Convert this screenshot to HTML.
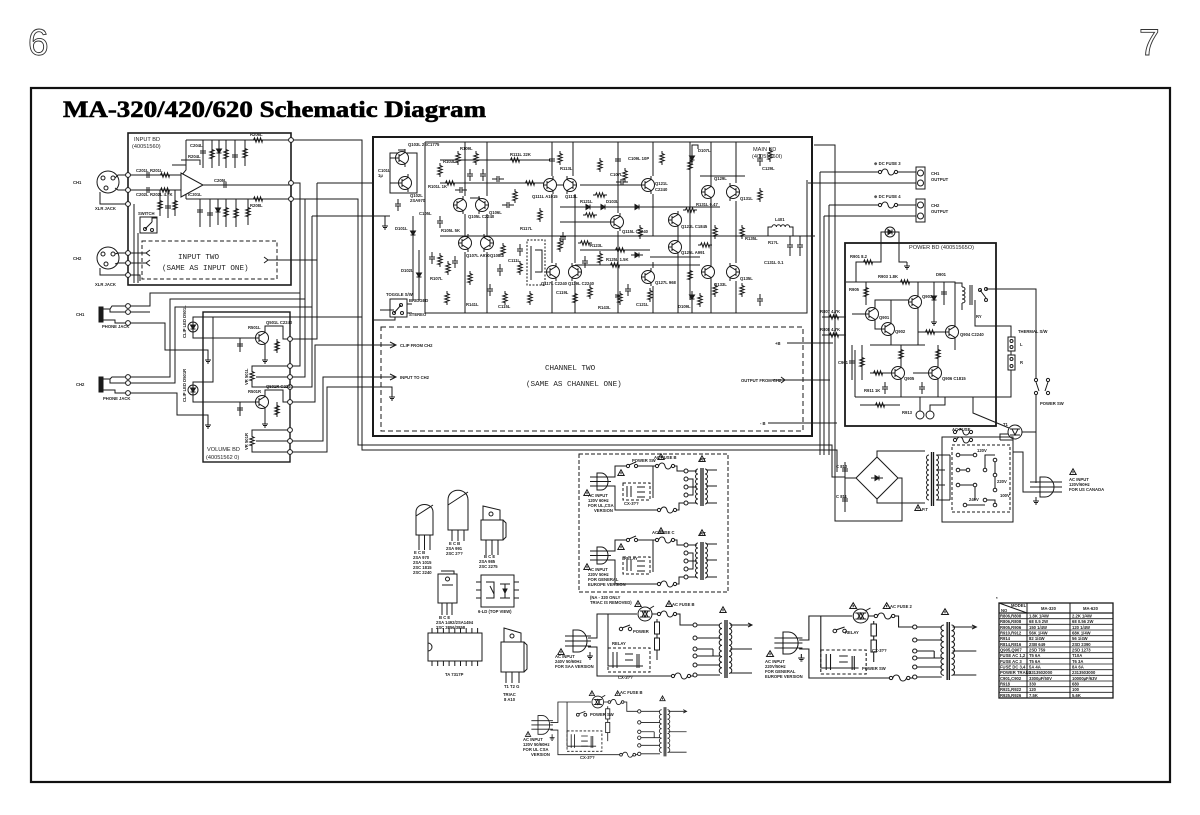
<!DOCTYPE html>
<html><head><meta charset="utf-8">
<style>
html,body{margin:0;padding:0;background:#fff;width:1200px;height:815px;overflow:hidden}
svg{display:block}
.t{font-family:"Liberation Sans",sans-serif;font-size:4.2px;font-weight:bold;fill:#222;stroke:none}
.s{font-family:"Liberation Sans",sans-serif;font-size:5.6px;fill:#222;stroke:none}
.b{font-family:"Liberation Mono","Liberation Sans",sans-serif;font-size:7.6px;fill:#222;stroke:none}
</style></head><body>
<svg width="1200" height="815" viewBox="0 0 1200 815" xmlns="http://www.w3.org/2000/svg">
<defs>
<g id="tr"><circle r="6.5" fill="#fff"/><path d="M-6.5,0H-3M-3,-4V4M-3,-1.8L3,-5.5V-9M-3,1.8L3,5.5V9"/></g>
<g id="tl"><circle r="6.5" fill="#fff"/><path d="M6.5,0H3M3,-4V4M3,-1.8L-3,-5.5V-9M3,1.8L-3,5.5V9"/></g>
<path id="rv" d="M0,-7V-4.5L2.2,-3.5L-2.2,-2L2.2,-0.5L-2.2,1L2.2,2.5L-2.2,4L0,4.5V7"/>
<path id="rh" d="M-7,0H-4.5L-3.5,-2.2L-2,2.2L-0.5,-2.2L1,2.2L2.5,-2.2L4,2.2L4.5,0H7"/>
<path id="cv" d="M0,-6V-1M-3,-1H3M-3,1H3M0,1V6"/>
<path id="ch" d="M-6,0H-1M-1,-3V3M1,-3V3M1,0H6"/>
<g id="dv"><path d="M-2.5,-2H2.5L0,2Z" fill="#1a1a1a"/><path d="M-2.5,2H2.5M0,-6V6"/></g>
<g id="dh"><path d="M-2,-2.5V2.5L2,0Z" fill="#1a1a1a"/><path d="M2,-2.5V2.5M-6,0H6"/></g>
<circle id="tm" r="2.4" fill="#fff"/>
<path id="gd" d="M0,0V4M-3,4H3M-2,5.5H2M-1,7H1"/>
<path id="wt" d="M0,-3.2L3.2,2.5H-3.2Z M0,-1V1.2"/>
<g id="fu"><path d="M-6.4,0C-5,-4 -1,-4 0,0C1,4 5,4 6.4,0"/><circle cx="-8" r="1.6" fill="#fff"/><circle cx="8" r="1.6" fill="#fff"/></g>
<g id="acT">
 <path d="M0,16H5A9,11 0 0 1 5,38H0Z" fill="#fff"/>
 <path d="M-8,22H18M-8,27H18M-8,32H18"/>
 <path d="M15,24H24V0H64M79,0H86M102,0H107V11H120M15,33H24V62H100M116,62H120V61"/>
 <path d="M35,0V52H70M84,5V46"/>
 <rect x="35" y="34" width="42" height="24" stroke-dasharray="3 2"/>
 <path d="M40,38V54M44,38V54M52,40H60M52,46H60M52,52H60M64,40V54M66,40V54"/>
 <circle cx="72" r="7" fill="#fff"/><path d="M67,-3H77M67,3H77M69,-3L72,3L75,-3M69,3L72,-3L75,3M76,-5L81,-8"/>
 <circle cx="48" cy="15" r="1.7" fill="#fff"/><circle cx="57" cy="15" r="1.7" fill="#fff"/><path d="M49,14L57,11"/>
 <rect x="81.5" y="8" width="5" height="12" fill="#fff"/><rect x="81.5" y="24" width="5" height="12" fill="#fff"/>
 <use href="#fu" x="94" y="0"/><use href="#fu" x="108" y="62"/>
 <path d="M124,11H147M124,24H147M124,35H140M124,42H147M124,51H147M124,61H147M140,35V42"/>
 <circle cx="122" cy="11" r="2" fill="#fff"/><circle cx="122" cy="24" r="2" fill="#fff"/><circle cx="122" cy="35" r="2" fill="#fff"/><circle cx="122" cy="42" r="2" fill="#fff"/><circle cx="122" cy="51" r="2" fill="#fff"/><circle cx="122" cy="61" r="2" fill="#fff"/>
 <path d="M149,9a2.8,2.8 0 0 0 0,5.6a2.8,2.8 0 0 0 0,5.6a2.8,2.8 0 0 0 0,5.6a2.8,2.8 0 0 0 0,5.6a2.8,2.8 0 0 0 0,5.6a2.8,2.8 0 0 0 0,5.6a2.8,2.8 0 0 0 0,5.6a2.8,2.8 0 0 0 0,5.6a2.8,2.8 0 0 0 0,5.6"/>
 <path d="M152,6V64M154,6V64" stroke-width="1.3"/>
 <path d="M156,9a2.8,2.8 0 0 1 0,5.6a2.8,2.8 0 0 1 0,5.6a2.8,2.8 0 0 1 0,5.6a2.8,2.8 0 0 1 0,5.6a2.8,2.8 0 0 1 0,5.6a2.8,2.8 0 0 1 0,5.6a2.8,2.8 0 0 1 0,5.6a2.8,2.8 0 0 1 0,5.6a2.8,2.8 0 0 1 0,5.6"/>
 <path d="M157,11H179M157,35H179M157,59H179M175,9L179,11L175,13"/>
 <use href="#wt" x="65" y="-10"/><use href="#wt" x="96" y="-10"/><use href="#wt" x="150" y="-4"/><use href="#wt" x="-12" y="38"/>
 <use href="#gd" x="17" y="38"/>
</g>
<g id="acR">
 <path d="M0,0H4A7,8.5 0 0 1 4,17H0Z" fill="#fff"/>
 <path d="M-7,4H14M-7,8.5H14M-7,13H14"/>
 <path d="M11,4H18V-7H30M41,-7H60M76,-7H80V-2H87M11,13H18V37H62M78,37H82V30H87M56,-7V25"/>
 <circle cx="31" cy="-7" r="1.6" fill="#fff"/><circle cx="39" cy="-7" r="1.6" fill="#fff"/><path d="M32,-8L39,-11"/>
 <use href="#fu" x="68" y="-7"/><use href="#fu" x="70" y="37"/>
 <rect x="26" y="10" width="27" height="17" stroke-dasharray="3 2"/>
 <path d="M30,13V24M34,13V24M40,14H48M40,19H48M40,24H48"/>
 <path d="M91,-2H100M91,6H96V22H91M91,14H100M91,30H100"/>
 <circle cx="89" cy="-2" r="2" fill="#fff"/><circle cx="89" cy="6" r="2" fill="#fff"/><circle cx="89" cy="14" r="2" fill="#fff"/><circle cx="89" cy="22" r="2" fill="#fff"/><circle cx="89" cy="30" r="2" fill="#fff"/>
 <path d="M101,-4a2.5,2.5 0 0 0 0,5a2.5,2.5 0 0 0 0,5a2.5,2.5 0 0 0 0,5a2.5,2.5 0 0 0 0,5a2.5,2.5 0 0 0 0,5a2.5,2.5 0 0 0 0,5a2.5,2.5 0 0 0 0,5"/>
 <path d="M104,-5V33M106,-5V33" stroke-width="1.3"/>
 <path d="M108,-4a2.5,2.5 0 0 1 0,5a2.5,2.5 0 0 1 0,5a2.5,2.5 0 0 1 0,5a2.5,2.5 0 0 1 0,5a2.5,2.5 0 0 1 0,5a2.5,2.5 0 0 1 0,5a2.5,2.5 0 0 1 0,5"/>
 <path d="M109,-3H120M109,13H120M109,30H120"/>
 <use href="#wt" x="64" y="-16"/><use href="#wt" x="105" y="-14"/><use href="#wt" x="-10" y="20"/><use href="#wt" x="24" y="0"/>
</g>
</defs>

<text x="28" y="55" font-family="Liberation Sans" font-size="37" fill="none" stroke="#333" stroke-width="0.9">6</text>
<text x="1139" y="55" font-family="Liberation Sans" font-size="37" fill="none" stroke="#333" stroke-width="0.9">7</text>
<rect x="31" y="88" width="1139" height="694" fill="none" stroke="#111" stroke-width="2.2"/>
<text x="63" y="117" font-family="Liberation Serif" font-weight="bold" font-size="23" textLength="423" lengthAdjust="spacingAndGlyphs" fill="#000" stroke="#000" stroke-width="0.6">MA-320/420/620 Schematic Diagram</text>

<g fill="none" stroke="#1a1a1a" stroke-width="1">

<!-- ================= INPUT BD ================= -->
<rect x="128" y="133" width="163" height="152" stroke-width="1.6"/>
<circle cx="108" cy="182" r="11"/><circle cx="103" cy="178" r="2"/><circle cx="113" cy="178" r="2"/><circle cx="106" cy="188" r="2"/>
<path d="M115,178L118,175H128M115,188L118,190H128M100,192V204H128"/>
<circle cx="108" cy="258" r="11"/><circle cx="103" cy="254" r="2"/><circle cx="113" cy="254" r="2"/><circle cx="106" cy="264" r="2"/>
<path d="M115,254L118,253H128M115,264L118,263H128M100,268V275H128"/>
<path d="M128,175H181M128,190H181M186,140H291M186,140V170L181,176M186,199H291M186,199V192L181,192M203,185H291M181,160H200V165M172,165H186"/>
<path d="M181,173V197L203,185Z" fill="#fff"/>
<use href="#ch" x="148" y="175"/><use href="#rh" x="165" y="175"/><use href="#ch" x="148" y="190"/><use href="#rh" x="165" y="190"/>
<use href="#ch" x="225" y="185"/><use href="#rh" x="258" y="140"/><use href="#rh" x="258" y="199"/>
<path d="M203,140V168M212,140V168M219,140V166M226,140V168M235,140V168M245,140V166M200,199V227M210,199V227M218,199V225M226,199V227M236,199V227M248,199V225M160,190V216M168,190V218M175,190V216"/>
<use href="#cv" x="203" y="152"/><use href="#rv" x="212" y="154"/><use href="#dv" x="219" y="151"/><use href="#rv" x="226" y="154"/><use href="#cv" x="235" y="156"/><use href="#rv" x="245" y="153"/>
<use href="#cv" x="200" y="211"/><use href="#cv" x="210" y="214"/><use href="#dv" x="218" y="210"/><use href="#rv" x="226" y="212"/><use href="#rv" x="236" y="213"/><use href="#rv" x="248" y="212"/>
<use href="#rv" x="160" y="205"/><use href="#cv" x="168" y="207"/><use href="#rv" x="175" y="205"/>
<rect x="140" y="217" width="17" height="16"/><path d="M145,229L152,222M152,222V218H157"/><circle cx="145" cy="229" r="1.5"/><circle cx="152" cy="230" r="1.5"/>
<path d="M134,204V283M138,233V283"/>
<rect x="142" y="241" width="135" height="38" stroke-dasharray="4 2.5"/>
<path d="M128,253H146M128,263H146M150,250L146,253L150,256M150,260L146,263L150,266M128,275H140V281M264,257L268,260L264,263M268,260H317"/>
<use href="#tm" x="128" y="175"/><use href="#tm" x="128" y="190"/><use href="#tm" x="128" y="204"/>
<use href="#tm" x="128" y="253"/><use href="#tm" x="128" y="263"/><use href="#tm" x="128" y="275"/>
<use href="#tm" x="291" y="140"/><use href="#tm" x="291" y="183"/><use href="#tm" x="291" y="199"/>

<!-- connections input -> main -->
<path d="M293,140H362V450H837V472"/>
<path d="M293,199H358V445H832V477H845"/>
<path d="M293,183H300V366H290M305,199V377H290M317,183V339H290M317,183H373M312,216V387H290M312,216H385V222"/>
<use href="#gd" x="385" y="222"/>
<!-- phone jacks -->
<rect x="99" y="307" width="4" height="15" fill="#1a1a1a"/>
<rect x="99" y="377" width="4" height="15" fill="#1a1a1a"/>
<path d="M103,309H110L112,306H128M110,309V312H128M103,320H115V323H128M128,306H150V293H300M128,312H150"/>
<path d="M103,379H110L112,377H128M110,379V383H128M103,390H115V393H128M128,377H170V299H305M128,383H175V307H312"/>
<path d="M128,323H165V350H208V356M128,393H177V415H208V421"/>
<use href="#gd" x="208" y="356"/><use href="#gd" x="208" y="421"/>
<use href="#tm" x="128" y="306"/><use href="#tm" x="128" y="312"/><use href="#tm" x="128" y="323"/>
<use href="#tm" x="128" y="377"/><use href="#tm" x="128" y="383"/><use href="#tm" x="128" y="393"/>

<!-- VOLUME BD -->
<rect x="203" y="312" width="87" height="150" stroke-width="1.4"/>
<circle cx="193" cy="327" r="5" fill="#fff"/><use href="#dv" x="193" y="327"/>
<circle cx="193" cy="390" r="5" fill="#fff"/><use href="#dv" x="193" y="390"/>
<path d="M193,322V317H362M193,332V338H255.5M213,317V382H193V385M193,395V402H255.5"/>
<use href="#tr" x="262" y="338"/><use href="#tr" x="262" y="402"/>
<path d="M265,329V326H283V339H290M265,347V356M265,393V390H283V402H290M265,411V420"/>
<use href="#gd" x="265" y="356"/><use href="#gd" x="265" y="420"/>
<path d="M240,338V352M240,402V416M277,339V352M277,402V416"/>
<use href="#cv" x="240" y="345"/><use href="#cv" x="240" y="409"/><use href="#rv" x="277" y="346"/><use href="#rv" x="277" y="410"/>
<path d="M290,366H252V369M252,383V387H290M256,377H290M290,430H252V434M252,448V452H290M256,441H290"/>
<use href="#rv" x="252" y="376"/><use href="#rv" x="252" y="441"/>
<path d="M290,402H315V345H396M390,342L396,345L390,348M290,441H323V377H396M390,374L396,377L390,380M290,452H327V387H392V393"/>
<use href="#gd" x="392" y="393"/>
<use href="#tm" x="290" y="339"/><use href="#tm" x="290" y="366"/><use href="#tm" x="290" y="377"/><use href="#tm" x="290" y="387"/><use href="#tm" x="290" y="402"/><use href="#tm" x="290" y="430"/><use href="#tm" x="290" y="441"/><use href="#tm" x="290" y="452"/>

<!-- ================= MAIN BD ================= -->
<path d="M373,137H812V436H373Z" stroke-width="2"/>
<rect x="381" y="327" width="422" height="104" stroke-dasharray="5 3"/>
<path d="M425,142H770M425,313H807V180M440,236H815M440,183H545M560,207H720M560,222H610M580,250H650M575,265H700M650,257H700M440,160H550M580,185H641.5M700,176H745M470,198H480M555,185H565"/>
<path d="M425,142V313M465,142V196M487,142V196M465,214V236M487,214V236M552,142V176M573,142V176M618,142V213M653,142V176M690,142V300M711,142V183M736,142V183M711,201V263M736,201V263M711,281V313M736,281V313M552,194V263M575,194V263M552,281V313M575,281V313M618,231V313M653,194V236M653,262V268M653,286V313M465,252V313M487,252V313M678,211V240M678,256V313"/>
<path d="M390,153V193H417V153ZM373,216H390M398,150H405V149M395.5,158H390M398.5,183H390"/>
<use href="#tr" x="402" y="158"/><use href="#tr" x="405" y="183"/>
<use href="#tr" x="460" y="205"/><use href="#tl" x="482" y="205"/><use href="#tr" x="465" y="243"/><use href="#tl" x="487" y="243"/>
<use href="#tr" x="550" y="185"/><use href="#tl" x="570" y="185"/><use href="#tr" x="617" y="222"/>
<use href="#tr" x="553" y="272"/><use href="#tl" x="575" y="272"/><use href="#tr" x="648" y="185"/>
<use href="#tr" x="675" y="220"/><use href="#tr" x="675" y="247"/><use href="#tr" x="648" y="277"/>
<use href="#tr" x="708" y="192"/><use href="#tl" x="733" y="192"/><use href="#tr" x="708" y="272"/><use href="#tl" x="733" y="272"/>
<use href="#rv" x="440" y="170"/><use href="#rv" x="458" y="158"/><use href="#rv" x="476" y="158"/><use href="#rv" x="448" y="268"/><use href="#rv" x="503" y="250"/><use href="#rv" x="520" y="268"/><use href="#rv" x="560" y="158"/><use href="#rv" x="590" y="292"/><use href="#rv" x="600" y="258"/><use href="#rv" x="640" y="232"/><use href="#rv" x="662" y="158"/><use href="#rv" x="690" y="165"/><use href="#rv" x="690" y="275"/><use href="#rv" x="715" y="232"/><use href="#rv" x="742" y="232"/><use href="#rv" x="715" y="290"/><use href="#rv" x="742" y="290"/><use href="#rv" x="770" y="155"/><use href="#rv" x="447" y="298"/><use href="#rv" x="505" y="298"/><use href="#rv" x="575" y="298"/><use href="#rv" x="650" y="295"/><use href="#rv" x="470" y="278"/><use href="#rv" x="530" y="298"/><use href="#rv" x="620" y="298"/><use href="#rv" x="440" y="260"/><use href="#rv" x="560" y="245"/><use href="#rv" x="600" y="165"/><use href="#rv" x="625" y="175"/><use href="#rv" x="700" y="300"/><use href="#rv" x="760" y="195"/><use href="#rv" x="540" y="215"/><use href="#rv" x="515" y="196"/>
<use href="#cv" x="398" y="205"/><use href="#cv" x="432" y="258"/><use href="#cv" x="455" y="262"/><use href="#cv" x="440" y="222"/><use href="#cv" x="520" y="250"/><use href="#cv" x="585" y="262"/><use href="#cv" x="618" y="160"/><use href="#cv" x="618" y="296"/><use href="#cv" x="552" y="160"/><use href="#cv" x="563" y="238"/><use href="#cv" x="490" y="290"/><use href="#cv" x="760" y="160"/><use href="#cv" x="760" y="300"/><use href="#cv" x="470" y="175"/><use href="#cv" x="483" y="175"/><use href="#cv" x="500" y="270"/><use href="#cv" x="628" y="290"/>
<use href="#dv" x="413" y="233"/><use href="#dv" x="419" y="275"/><use href="#dv" x="692" y="158"/><use href="#dv" x="692" y="297"/>
<use href="#rh" x="450" y="183"/><use href="#rh" x="590" y="215"/><use href="#rh" x="585" y="243"/><use href="#rh" x="620" y="250"/><use href="#rh" x="615" y="265"/><use href="#rh" x="690" y="210"/><use href="#rh" x="705" y="245"/><use href="#rh" x="530" y="183"/><use href="#rh" x="600" y="195"/><use href="#rh" x="515" y="160"/>
<use href="#dh" x="588" y="207"/><use href="#dh" x="603" y="207"/><use href="#dh" x="637" y="207"/><use href="#dh" x="637" y="255"/>
<use href="#ch" x="498" y="179"/><use href="#ch" x="622" y="182"/><use href="#ch" x="461" y="190"/><use href="#ch" x="508" y="205"/>
<path d="M413,227V216M413,239V300M419,269V250M419,281V300M692,152V145H698V149M692,303V313"/>
<rect x="527" y="240" width="18" height="45" stroke-dasharray="2 1.5"/><path d="M531,246V280M535,250H542V272H535"/>
<rect x="390" y="299" width="17" height="18"/><path d="M394,313L401,305M380,310H394M407,304H412M407,313H412M373,320H395V317"/><circle cx="394" cy="313" r="1.5"/><circle cx="401" cy="305" r="1.5"/><circle cx="402" cy="313" r="1.5"/>
<path d="M768,236V227H772M772,227a2.2,2.2 0 0 1 4.4,0a2.2,2.2 0 0 1 4.4,0a2.2,2.2 0 0 1 4.4,0a2.2,2.2 0 0 1 4.4,0H793V236M790,236V240M800,236V240M790,252V256M800,252V256"/>
<use href="#cv" x="790" y="246"/><use href="#cv" x="800" y="246"/>
<path d="M787,343H833M772,380H830M781,377L785,380L781,383M768,423H837"/>

<!-- right side outputs -->
<path d="M814,145H835V521H902V478H898M820,172H878.4M897.6,172H916M808,183H916M820,172V455M829,205H880M896,205H916M829,205V455M824,216H916M824,216V455"/>
<use href="#fu" x="888" y="172"/><use href="#fu" x="888" y="205"/>
<rect x="916" y="167" width="9" height="22" fill="#fff"/><rect x="916" y="199" width="9" height="23" fill="#fff"/>
<circle cx="920.5" cy="173" r="3"/><circle cx="920.5" cy="183" r="3"/><circle cx="920.5" cy="205" r="3"/><circle cx="920.5" cy="216" r="3"/>
<path d="M846,317H822M846,335H822"/><use href="#rh" x="834" y="317"/><use href="#rh" x="834" y="335"/>

<!-- ================= POWER BD ================= -->
<rect x="845" y="243" width="151" height="183" stroke-width="1.8"/>
<circle cx="890" cy="232" r="5" fill="#fff"/><use href="#dh" x="890" y="232"/>
<path d="M885,232H881V262H856V282H955V323M895,232H899V262H907M846,282H856"/>
<use href="#gd" x="907" y="262"/><use href="#rh" x="868" y="262"/><use href="#rh" x="905" y="282"/>
<path d="M866,282V305M875,305V300H908.5M865.5,314H852M875,323V329H881.5M891,320V300M891,338V345M918,293V282M918,311V345M934,282V318M944,282V305M962,287V283H955M962,303V310M918,332H945.5M955,341V350M975,300V326H1011V337"/>
<use href="#rv" x="866" y="292"/><use href="#dv" x="934" y="298"/><use href="#gd" x="934" y="318"/><use href="#cv" x="944" y="293"/><use href="#rh" x="930" y="332"/>
<use href="#tr" x="872" y="314"/><use href="#tr" x="888" y="329"/><use href="#tr" x="915" y="302"/><use href="#tr" x="952" y="332"/>
<path d="M962,287c4,0 4,4 0,4c4,0 4,4 0,4c4,0 4,4 0,4c4,0 4,4 0,4M970,285V305M972,285V305"/>
<circle cx="980" cy="290" r="1.5"/><circle cx="986" cy="289" r="1.5"/><circle cx="986" cy="300" r="1.5"/><path d="M980,290L986,298"/>
<path d="M870,345H925M901,345V364M938,345V364M870,373H891.5M913,373H928.5M901,382V397M938,382V397M855,397H995M855,350V397M862,345V380M852,345V380"/>
<use href="#rv" x="901" y="354"/><use href="#rv" x="938" y="354"/><use href="#rh" x="878" y="373"/><use href="#cv" x="852" y="362"/><use href="#rv" x="862" y="362"/><use href="#cv" x="885" y="388"/><use href="#cv" x="922" y="388"/>
<use href="#tr" x="898" y="373"/><use href="#tr" x="935" y="373"/>
<path d="M860,405H900M920,411V397M930,411V405H945V397M920,397"/><use href="#rh" x="880" y="405"/>
<circle cx="920" cy="415" r="4"/><circle cx="930" cy="415" r="4"/>
<!-- right of power -->
<path d="M986,289H1036V378M1036,395V483"/>
<rect x="1008" y="337" width="7" height="14" fill="#fff"/><rect x="1008" y="355" width="7" height="15" fill="#fff"/>
<circle cx="1011.5" cy="341" r="1.5"/><circle cx="1011.5" cy="347" r="1.5"/><circle cx="1011.5" cy="359" r="1.5"/><circle cx="1011.5" cy="366" r="1.5"/>
<path d="M1011,351V355M1011,370V397H973V413L1009,428"/>
<circle cx="1036" cy="380" r="1.6"/><circle cx="1036" cy="393" r="1.6"/><circle cx="1048" cy="380" r="1.6"/><circle cx="1048" cy="393" r="1.6"/><path d="M1036,382L1039,391M1048,382L1045,391"/>
<circle cx="1015" cy="432" r="7" fill="#fff"/><path d="M1010,429H1020M1010,435H1020M1012,429L1015,435L1018,429M1022,432H1036M1008,434H1000V440"/>

<!-- bridge / transformer / selector -->
<path d="M856,478L877,457L898,478L877,499Z"/><use href="#dh" x="877" y="478"/>
<path d="M877,457V451H925M877,499V503H925M856,478H845M845,462V512"/>
<use href="#cv" x="845" y="470"/><use href="#cv" x="845" y="500"/>
<path d="M929,455a2.5,2.5 0 0 0 0,5a2.5,2.5 0 0 0 0,5a2.5,2.5 0 0 0 0,5a2.5,2.5 0 0 0 0,5a2.5,2.5 0 0 0 0,5a2.5,2.5 0 0 0 0,5a2.5,2.5 0 0 0 0,5a2.5,2.5 0 0 0 0,5a2.5,2.5 0 0 0 0,5"/>
<path d="M931.5,452V506M933.5,452V506" stroke-width="1.3"/>
<path d="M936,455a2.5,2.5 0 0 1 0,5a2.5,2.5 0 0 1 0,5a2.5,2.5 0 0 1 0,5a2.5,2.5 0 0 1 0,5a2.5,2.5 0 0 1 0,5a2.5,2.5 0 0 1 0,5a2.5,2.5 0 0 1 0,5a2.5,2.5 0 0 1 0,5a2.5,2.5 0 0 1 0,5"/>
<path d="M937,455H950M937,470H945M937,485H945M937,500H950"/>
<rect x="942" y="437" width="71" height="85"/>
<rect x="952" y="445" width="58" height="67" stroke-dasharray="3 2"/>
<path d="M958,455H975M958,470L968,470M985,470V455H995M958,485H975M995,460V490M985,500H995V505M965,505H985M950,455V500M975,485V500"/>
<circle cx="958" cy="455" r="1.8" fill="#fff"/><circle cx="975" cy="455" r="1.8" fill="#fff"/><circle cx="958" cy="470" r="1.8" fill="#fff"/><circle cx="968" cy="470" r="1.8" fill="#fff"/><circle cx="985" cy="470" r="1.8" fill="#fff"/><circle cx="958" cy="485" r="1.8" fill="#fff"/><circle cx="975" cy="485" r="1.8" fill="#fff"/><circle cx="995" cy="460" r="1.8" fill="#fff"/><circle cx="995" cy="475" r="1.8" fill="#fff"/><circle cx="995" cy="490" r="1.8" fill="#fff"/><circle cx="985" cy="500" r="1.8" fill="#fff"/><circle cx="965" cy="505" r="1.8" fill="#fff"/><circle cx="995" cy="505" r="1.8" fill="#fff"/>
<use href="#fu" x="963" y="432"/><use href="#fu" x="963" y="440"/>
<path d="M1013,452H1023V492H1040M1000,440H1013"/>
<path d="M1040,477H1045A9,10 0 0 1 1045,497H1040Z" fill="#fff"/>
<path d="M1030,482H1062M1030,487H1062M1030,492H1062"/>
<use href="#gd" x="1036" y="497"/>
<use href="#wt" x="1073" y="472"/><use href="#wt" x="918" y="508"/>

<!-- ================= PACKAGES ================= -->
<path d="M416,535V512C416,502 433,502 433,512V535Z" fill="#fff"/><path d="M416,516L433,505M419,535V550M424.5,535V550M430,535V550"/>
<path d="M448,530V500C448,487 468,487 468,500V530Z" fill="#fff"/><path d="M448,505L468,492M452,530V541M458,530V541M464,530V541"/>
<path d="M483,506L500,510V524L483,520Z" fill="#fff"/><circle cx="491" cy="514" r="2"/><path d="M481,520H503V540H481Z" fill="#fff"/><path d="M503,520L506,523V537L503,540M486,540V555M492,540V555M498,540V555"/>
<path d="M438,574H457V603H438Z" fill="#fff"/><path d="M441,571H454V574M442,585H453M442,603V615M447,603V615M452,603V615"/><circle cx="447.5" cy="579" r="2"/>
<rect x="481" y="575" width="33" height="32" fill="#fff"/><path d="M476,582H481M476,590H481M476,598H481M514,582H519M514,590H519M514,598H519M486,582H494V598H486M490,586L494,594M500,584H510M505,584V598M500,598H510"/><path d="M503,589L507,589L505,593Z" fill="#1a1a1a"/>
<rect x="428" y="633" width="54" height="28" fill="#fff"/><path d="M428,643A4,4 0 0 1 428,651"/>
<path d="M432,628V633M437.7,628V633M443.4,628V633M449.1,628V633M454.8,628V633M460.5,628V633M466.2,628V633M471.9,628V633M477.6,628V633M432,661V666M437.7,661V666M443.4,661V666M449.1,661V666M454.8,661V666M460.5,661V666M466.2,661V666M471.9,661V666M477.6,661V666"/>
<path d="M504,628L521,633V647L504,642Z" fill="#fff"/><circle cx="512" cy="636" r="2"/><path d="M501,642H524V672H501Z" fill="#fff"/><path d="M524,642L527,645V669L524,672M506,672V683M512,672V683M519,672V683"/>

<!-- ================= AC VARIANTS ================= -->
<rect x="579" y="454" width="149" height="138" stroke-dasharray="4 2"/>
<use href="#acR" x="597" y="473"/>
<use href="#acR" x="597" y="547"/>
<use href="#acT" transform="translate(573,614)"/>
<use href="#acT" transform="translate(538,702) scale(0.83,0.85)"/>
<use href="#acT" transform="translate(783,616) scale(1.08,1)"/>

<!-- table -->
<rect x="999" y="603" width="114" height="95" stroke-width="1.3"/>
<path d="M1027,603V698M1070,603V698M999,603L1027,613" stroke-width="1"/>
<path d="M999,613H1113" stroke-width="1.2"/>
<path d="M999,618.7H1113M999,624.3H1113M999,630H1113M999,635.7H1113M999,641.3H1113M999,647H1113M999,652.7H1113M999,658.3H1113M999,664H1113M999,669.7H1113M999,675.3H1113M999,681H1113M999,686.7H1113M999,692.3H1113" stroke-width="0.8"/>
</g>

<!-- ================= TEXT LABELS ================= -->
<g>
<text class="s" x="134" y="141">INPUT BD</text>
<text class="s" x="132" y="148">(40051560)</text>
<text class="t" x="73" y="184">CH1</text><text class="t" x="95" y="210">XLR JACK</text>
<text class="t" x="73" y="260">CH2</text><text class="t" x="95" y="286">XLR JACK</text>
<text class="t" x="76" y="316">CH1</text><text class="t" x="102" y="328">PHONE JACK</text>
<text class="t" x="76" y="386">CH2</text><text class="t" x="103" y="400">PHONE JACK</text>
<text class="t" x="136" y="172">C201L</text><text class="t" x="150" y="172">R201L</text><text class="t" x="136" y="196">C202L</text><text class="t" x="150" y="196">R202L 4.7K</text>
<text class="t" x="190" y="147">C204L</text><text class="t" x="188" y="158">R204L</text><text class="t" x="214" y="182">C205L</text>
<text class="t" x="250" y="136">R206L</text><text class="t" x="250" y="207">R208L</text><text class="t" x="188" y="196">IC201L</text>
<text class="t" x="138" y="215">SWITCH</text>
<text class="b" x="178" y="259">INPUT  TWO</text>
<text class="b" x="162" y="270">(SAME  AS  INPUT  ONE)</text>
<text class="t" x="248" y="329">R501L</text><text class="t" x="266" y="324">Q501L C2240</text>
<text class="t" x="248" y="393">R501R</text><text class="t" x="266" y="388">Q501R C2240</text>
<text class="t" transform="translate(186,338) rotate(-90)">CLIP LED D501L</text>
<text class="t" transform="translate(186,402) rotate(-90)">CLIP LED D501R</text>
<text class="t" transform="translate(248,385) rotate(-90)">VR 501L</text>
<text class="t" transform="translate(248,450) rotate(-90)">VR 501R</text>
<text class="s" x="207" y="451">VOLUME BD</text>
<text class="s" x="206" y="459">(40051562 0)</text>
<text class="t" x="400" y="347">CLIP FROM CH2</text>
<text class="t" x="400" y="379">INPUT TO CH2</text>
<text class="b" x="545" y="370">CHANNEL  TWO</text>
<text class="b" x="526" y="386">(SAME  AS  CHANNEL  ONE)</text>
<text class="t" x="741" y="382">OUTPUT FROM CH2</text>
<text class="t" x="775" y="345">+B</text><text class="t" x="760" y="425">- B</text>
<text class="s" x="753" y="151">MAIN BD</text>
<text class="s" x="752" y="158">(40051560I)</text>
<text class="t" x="386" y="296">TOGGLE S/W</text><text class="t" x="409" y="302">BRIDGED</text><text class="t" x="409" y="316">STEREO</text>
<text class="t" x="408" y="146">Q103L 2SC1775</text><text class="t" x="410" y="197">Q102L</text><text class="t" x="410" y="202">2SA970</text>
<text class="t" x="378" y="172">C101L</text><text class="t" x="378" y="177">1µ</text><text class="t" x="428" y="188">R101L 1K</text>
<text class="t" x="441" y="232">R105L 5K</text><text class="t" x="468" y="218">Q105L C2240</text><text class="t" x="489" y="214">Q106L</text>
<text class="t" x="466" y="257">Q107L A970</text><text class="t" x="490" y="257">Q108L</text><text class="t" x="443" y="163">R103L</text>
<text class="t" x="520" y="230">R117L</text><text class="t" x="532" y="198">Q111L A1015</text><text class="t" x="565" y="198">Q113L</text>
<text class="t" x="580" y="203">R121L</text><text class="t" x="606" y="203">D103L</text><text class="t" x="622" y="233">Q115L C2240</text>
<text class="t" x="590" y="247">R123L</text><text class="t" x="541" y="285">Q117L C2240</text><text class="t" x="568" y="285">Q119L C2240</text>
<text class="t" x="606" y="261">R125L 1.5K</text><text class="t" x="655" y="185">Q121L</text><text class="t" x="655" y="191">C2240</text>
<text class="t" x="681" y="228">Q123L C1845</text><text class="t" x="681" y="254">Q125L A991</text><text class="t" x="655" y="284">Q127L 968</text>
<text class="t" x="714" y="180">Q129L</text><text class="t" x="740" y="200">Q131L</text><text class="t" x="714" y="286">Q133L</text><text class="t" x="740" y="280">Q135L</text>
<text class="t" x="696" y="206">R131L 0.47</text><text class="t" x="745" y="240">R135L</text><text class="t" x="698" y="152">D107L</text>
<text class="t" x="762" y="170">C129L</text><text class="t" x="764" y="264">C131L 0.1</text><text class="t" x="556" y="294">C119L</text>
<text class="t" x="466" y="306">R141L</text><text class="t" x="498" y="308">C115L</text><text class="t" x="598" y="309">R143L</text>
<text class="t" x="636" y="306">C121L</text><text class="t" x="678" y="308">D109L</text><text class="t" x="419" y="215">C105L</text>
<text class="t" x="460" y="150">R109L</text><text class="t" x="510" y="156">R111L 22K</text><text class="t" x="610" y="176">C107L</text>
<text class="t" x="628" y="160">C109L 10P</text><text class="t" x="560" y="170">R113L</text><text class="t" x="775" y="221">L401</text>
<text class="t" x="768" y="244">R1?L</text><text class="t" x="430" y="280">R107L</text><text class="t" x="508" y="262">C111L</text>
<text class="t" x="395" y="230">D101L</text><text class="t" x="401" y="272">D102L</text>
<text class="t" x="874" y="165">⊕ DC FUSE 3</text><text class="t" x="874" y="198">⊕ DC FUSE 4</text>
<text class="t" x="931" y="175">CH1</text><text class="t" x="931" y="181">OUTPUT</text>
<text class="t" x="931" y="207">CH2</text><text class="t" x="931" y="213">OUTPUT</text>
<text class="t" x="820" y="313">R807 4.7K</text><text class="t" x="820" y="331">R808 4.7K</text>
<text class="s" x="909" y="249">POWER BD (40051565O)</text>
<text class="t" x="850" y="258">R901 8.2</text><text class="t" x="878" y="278">R903 1.8K</text><text class="t" x="849" y="291">R905</text>
<text class="t" x="879" y="319">Q901</text><text class="t" x="895" y="333">Q902</text><text class="t" x="922" y="298">Q903</text>
<text class="t" x="960" y="336">Q904 C2240</text><text class="t" x="904" y="380">Q905</text><text class="t" x="942" y="380">Q906 C1815</text>
<text class="t" x="838" y="364">C901</text><text class="t" x="864" y="392">R911 1K</text><text class="t" x="936" y="276">D901</text>
<text class="t" x="976" y="318">RY</text><text class="t" x="902" y="414">R913</text>
<text class="t" x="1018" y="333">THERMAL S/W</text><text class="t" x="1020" y="346">L</text><text class="t" x="1020" y="364">R</text>
<text class="t" x="1040" y="405">POWER SW</text><text class="t" x="1003" y="426">T1</text>
<text class="t" x="1069" y="481">AC INPUT</text><text class="t" x="1069" y="486">120V/60Hz</text><text class="t" x="1069" y="491">FOR US CANADA</text>
<text class="t" x="836" y="468">C 810</text><text class="t" x="836" y="498">C 811</text><text class="t" x="922" y="511">P.T</text>
<text class="t" x="977" y="452">120V</text><text class="t" x="997" y="483">220V</text><text class="t" x="969" y="501">240V</text><text class="t" x="1000" y="497">100V</text>
<text class="t" x="952" y="431">AC FUSE</text>
<text class="t" x="414" y="554">E C B</text><text class="t" x="413" y="559">2SA 970</text><text class="t" x="413" y="564">2SA 1015</text><text class="t" x="413" y="569">2SC 1815</text><text class="t" x="413" y="574">2SC 2240</text>
<text class="t" x="449" y="545">E C B</text><text class="t" x="446" y="550">2SA 991</text><text class="t" x="446" y="555">2SC 2??</text>
<text class="t" x="484" y="558">B C E</text><text class="t" x="479" y="563">2SA 985</text><text class="t" x="479" y="568">2SC 2275</text>
<text class="t" x="439" y="619">B C E</text><text class="t" x="436" y="624">2SA 1492/2SA1494</text><text class="t" x="436" y="629">2SC 3856/3858</text>
<text class="t" x="478" y="613">6-LD (TOP VIEW)</text>
<text class="t" x="445" y="676">TA 7317P</text>
<text class="t" x="504" y="688">T1 T2 G</text><text class="t" x="503" y="696">TRIAC</text><text class="t" x="504" y="701">8 A10</text>
<text class="t" x="588" y="497">AC INPUT</text><text class="t" x="588" y="502">120V 60Hz</text><text class="t" x="588" y="507">FOR UL,CSA</text><text class="t" x="594" y="512">VERSION</text>
<text class="t" x="624" y="505">CX-3??</text><text class="t" x="632" y="462">POWER SW</text><text class="t" x="654" y="459">AC FUSE B</text><text class="t" x="700" y="461">P.T</text>
<text class="t" x="588" y="571">AC INPUT</text><text class="t" x="588" y="576">220V 50Hz</text><text class="t" x="588" y="581">FOR GENERAL</text><text class="t" x="588" y="586">EUROPE VERSION</text>
<text class="t" x="652" y="534">AC FUSE C</text><text class="t" x="624" y="560">RELAY</text><text class="t" x="700" y="535">P.T</text>
<text class="t" x="590" y="599">(NA - 320 ONLY</text><text class="t" x="590" y="604">TRIAC IS REMOVED)</text>
<text class="t" x="555" y="658">AC INPUT</text><text class="t" x="555" y="663">240V 50/60Hz</text><text class="t" x="555" y="668">FOR SAA VERSION</text>
<text class="t" x="633" y="633">POWER</text><text class="t" x="612" y="645">RELAY</text><text class="t" x="618" y="679">CX-3??</text><text class="t" x="672" y="606">AC FUSE B</text>
<text class="t" x="523" y="741">AC INPUT</text><text class="t" x="523" y="746">120V 50/60Hz</text><text class="t" x="523" y="751">FOR UL CSA</text><text class="t" x="531" y="756">VERSION</text>
<text class="t" x="590" y="716">POWER SW</text><text class="t" x="620" y="694">AC FUSE B</text><text class="t" x="580" y="759">CX-3??</text>
<text class="t" x="765" y="663">AC INPUT</text><text class="t" x="765" y="668">220V/50Hz</text><text class="t" x="765" y="673">FOR GENERAL</text><text class="t" x="765" y="678">EUROPE VERSION</text>
<text class="t" x="845" y="634">RELAY</text><text class="t" x="862" y="670">POWER SW</text><text class="t" x="872" y="652">CX-3??</text><text class="t" x="890" y="608">AC FUSE 2</text>
<text class="t" x="996" y="600">*</text>
<text class="t" x="1011" y="607">MODEL</text><text class="t" x="1001" y="612">NO</text>
<text class="t" x="1041" y="610">MA-320</text><text class="t" x="1083" y="610">MA-620</text>
<text class="t" x="1000" y="617.5">R806,R808</text><text class="t" x="1029" y="617.5">1.8K 1/4W</text><text class="t" x="1072" y="617.5">2.2K 1/4W</text>
<text class="t" x="1000" y="623.2">R806,R808</text><text class="t" x="1029" y="623.2">68 0.5 2W</text><text class="t" x="1072" y="623.2">68 0.56 2W</text>
<text class="t" x="1000" y="628.8">R905,R906</text><text class="t" x="1029" y="628.8">150 1/4W</text><text class="t" x="1072" y="628.8">120 1/4W</text>
<text class="t" x="1000" y="634.5">R910,R912</text><text class="t" x="1029" y="634.5">56K 1/4W</text><text class="t" x="1072" y="634.5">68K 1/4W</text>
<text class="t" x="1000" y="640.2">R914</text><text class="t" x="1029" y="640.2">82 1/4W</text><text class="t" x="1072" y="640.2">56 1/4W</text>
<text class="t" x="1000" y="645.8">R814,R816</text><text class="t" x="1029" y="645.8">2SB 649</text><text class="t" x="1072" y="645.8">2SD 2390</text>
<text class="t" x="1000" y="651.5">Q905,Q907</text><text class="t" x="1029" y="651.5">2SD 759</text><text class="t" x="1072" y="651.5">2SD 1273</text>
<text class="t" x="1000" y="657.2">FUSE AC 1,2</text><text class="t" x="1029" y="657.2">T5 6A</text><text class="t" x="1072" y="657.2">T10A</text>
<text class="t" x="1000" y="662.8">FUSE AC 3</text><text class="t" x="1029" y="662.8">T5 6A</text><text class="t" x="1072" y="662.8">T6 3A</text>
<text class="t" x="1000" y="668.5">FUSE DC 3,4</text><text class="t" x="1029" y="668.5">5A 4A</text><text class="t" x="1072" y="668.5">8A 6A</text>
<text class="t" x="1000" y="674.2">POWER TRANS</text><text class="t" x="1029" y="674.2">2313502000</text><text class="t" x="1072" y="674.2">2313503000</text>
<text class="t" x="1000" y="679.8">C901,C902</text><text class="t" x="1029" y="679.8">3300µF/50V</text><text class="t" x="1072" y="679.8">10000µF/63V</text>
<text class="t" x="1000" y="685.5">R918</text><text class="t" x="1029" y="685.5">330</text><text class="t" x="1072" y="685.5">680</text>
<text class="t" x="1000" y="691.2">R921,R922</text><text class="t" x="1029" y="691.2">120</text><text class="t" x="1072" y="691.2">100</text>
<text class="t" x="1000" y="696.8">R925,R926</text><text class="t" x="1029" y="696.8">7.5K</text><text class="t" x="1072" y="696.8">5.6K</text>
</g>
</svg>
</body></html>
